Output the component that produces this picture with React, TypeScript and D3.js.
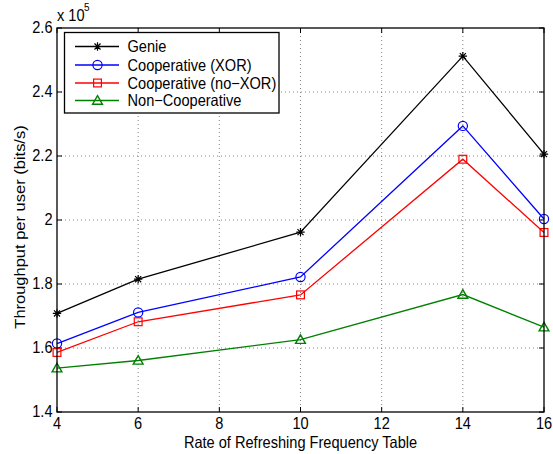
import React from 'react';
import * as d3 from 'd3';

// rate of refreshing frequency table
const rates = [4, 6, 10, 14, 16];
// throughput per user, in units of 1e5 bits/s
const genie = [1.708, 1.815, 1.962, 2.512, 2.206];
const coopXor = [1.614, 1.711, 1.822, 2.294, 2.003];
const coopNoXor = [1.586, 1.682, 1.766, 2.19, 1.961];
const nonCoop = [1.537, 1.561, 1.626, 1.767, 1.665];

const xTicks = [4, 6, 8, 10, 12, 14, 16];
const yTicks = [1.4, 1.6, 1.8, 2.0, 2.2, 2.4, 2.6];

const seriesNames = ['Genie', 'Cooperative (XOR)', 'Cooperative (no\u2212XOR)', 'Non\u2212Cooperative'];
const seriesColors = ['#000000', '#0000ff', '#ff0000', '#008000'];
const seriesMarkers = ['star', 'circle', 'square', 'triangle'];

const width = 553;
const height = 454;
const margin = { top: 28, right: 9, bottom: 42, left: 57 };
const font = '"Liberation Sans", Arial, Helvetica, sans-serif';
const fs = 14.6;
// the picture is slightly taller than wide, text gets stretched a bit
const stretch = 1.13;

const Txt = ({ x, y, anchor = 'start', size = fs, rotate = 0, children }: any) => (
  <text
    transform={`translate(${x},${y}) scale(1,${stretch}) rotate(${rotate})`}
    textAnchor={anchor}
    fontSize={size}
  >
    {children}
  </text>
);

const Marker = ({ type, x, y, color }: { type: string; x: number; y: number; color: string }) => {
  if (type === 'star') {
    const r = 4.2;
    const d = r * 0.72;
    return (
      <path
        d={`M${x - r},${y}L${x + r},${y}M${x},${y - r}L${x},${y + r}M${x - d},${y - d}L${x + d},${y + d}M${x - d},${y + d}L${x + d},${y - d}`}
        stroke={color}
        strokeWidth={1.2}
        fill="none"
      />
    );
  }
  if (type === 'circle') {
    return <circle cx={x} cy={y} r={4.6} stroke={color} strokeWidth={1.2} fill="none" />;
  }
  if (type === 'square') {
    return <rect x={x - 3.9} y={y - 3.9} width={7.8} height={7.8} stroke={color} strokeWidth={1.2} fill="none" />;
  }
  const s = 4.9;
  return (
    <path
      d={`M${x},${y - s}L${x + s},${y + s * 0.75}L${x - s},${y + s * 0.75}Z`}
      stroke={color}
      strokeWidth={1.4}
      fill="none"
    />
  );
};

export default function App() {
  const innerW = width - margin.left - margin.right;
  const innerH = height - margin.top - margin.bottom;

  const x = d3.scaleLinear().domain([4, 16]).range([margin.left, margin.left + innerW]);
  const y = d3.scaleLinear().domain([1.4, 2.6]).range([margin.top + innerH, margin.top]);

  const allSeries = [genie, coopXor, coopNoXor, nonCoop];
  const line = d3
    .line<number>()
    .x((_, i) => x(rates[i]))
    .y((d) => y(d));

  const left = margin.left;
  const right = margin.left + innerW;
  const top = margin.top;
  const bottom = margin.top + innerH;

  // legend box
  const lg = { x: 64.5, y: 32.5, w: 214.5, h: 80.5 };
  const rowY = [46.5, 65, 83, 100.5];

  return (
    <svg width={width} height={height} style={{ position: 'absolute', left: 0, top: 0 }} fontFamily={font}>
      <rect x={0} y={0} width={width} height={height} fill="#ffffff" />

      {/* grid */}
      {xTicks.slice(1, -1).map((t) => (
        <line key={'gx' + t} x1={x(t)} x2={x(t)} y1={top} y2={bottom} stroke="#777" strokeWidth={0.9} strokeDasharray="1,3" />
      ))}
      {yTicks.slice(1, -1).map((t) => (
        <line key={'gy' + t} x1={left} x2={right} y1={y(t)} y2={y(t)} stroke="#777" strokeWidth={0.9} strokeDasharray="1,3" />
      ))}

      {/* ticks inside */}
      {xTicks.map((t) => (
        <g key={'tx' + t}>
          <line x1={x(t)} x2={x(t)} y1={bottom} y2={bottom - 5} stroke="#000" />
          <line x1={x(t)} x2={x(t)} y1={top} y2={top + 5} stroke="#000" />
          <Txt x={x(t)} y={429} anchor="middle">
            {t}
          </Txt>
        </g>
      ))}
      {yTicks.map((t) => (
        <g key={'ty' + t}>
          <line x1={left} x2={left + 5} y1={y(t)} y2={y(t)} stroke="#000" />
          <line x1={right} x2={right - 5} y1={y(t)} y2={y(t)} stroke="#000" />
          <Txt x={left - 4.5} y={y(t) + 5} anchor="end">
            {d3.format('~g')(t)}
          </Txt>
        </g>
      ))}

      {/* series */}
      {allSeries.map((vals, si) => (
        <g key={'s' + si}>
          <path d={line(vals) || ''} fill="none" stroke={seriesColors[si]} strokeWidth={1.3} />
          {vals.map((v, i) => (
            <Marker key={i} type={seriesMarkers[si]} x={x(rates[i])} y={y(v)} color={seriesColors[si]} />
          ))}
        </g>
      ))}

      {/* axes box */}
      <rect x={left} y={top} width={innerW} height={innerH} fill="none" stroke="#000" strokeWidth={1.3} />

      {/* exponent */}
      <Txt x={left} y={21}>
        x 10
      </Txt>
      <Txt x={left + 27} y={11} size={10}>
        5
      </Txt>

      {/* legend */}
      <rect x={lg.x} y={lg.y} width={lg.w} height={lg.h} fill="#fff" stroke="#000" strokeWidth={1.3} />
      {seriesNames.map((name, i) => (
        <g key={'lg' + i}>
          <line x1={75} x2={119} y1={rowY[i]} y2={rowY[i]} stroke={seriesColors[i]} strokeWidth={1.3} />
          <Marker type={seriesMarkers[i]} x={97.5} y={rowY[i]} color={seriesColors[i]} />
          <Txt x={127.5} y={rowY[i] + 5.8}>
            {name}
          </Txt>
        </g>
      ))}

      {/* axis labels */}
      <Txt x={(left + right) / 2} y={448} anchor="middle">
        Rate of Refreshing Frequency Table
      </Txt>
      <Txt x={24.5} y={227} anchor="middle" rotate={-90}>
        Throughput per user (bits/s)
      </Txt>
    </svg>
  );
}
